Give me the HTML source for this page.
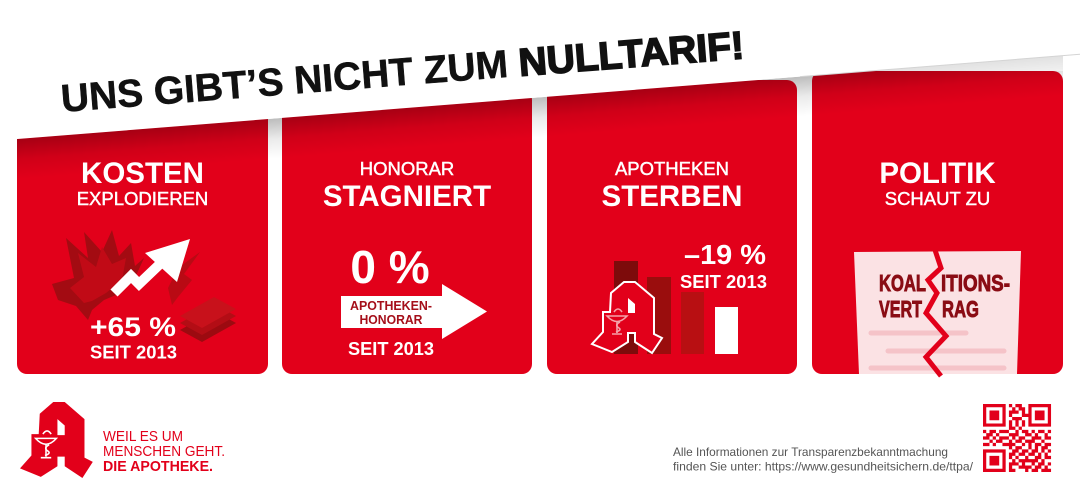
<!DOCTYPE html>
<html><head><meta charset="utf-8"><style>
html,body{margin:0;padding:0;background:#fff;}
svg{display:block;}
text{font-family:"Liberation Sans",Arial,sans-serif;}
</style></head><body>
<svg width="1080" height="500" viewBox="0 0 1080 500" xmlns="http://www.w3.org/2000/svg">
<defs>
<linearGradient id="sh" gradientUnits="userSpaceOnUse" x1="540" y1="97.35" x2="543.2" y2="137.2">
<stop offset="0" stop-color="#000" stop-opacity="0.26"/>
<stop offset="0.5" stop-color="#000" stop-opacity="0.08"/>
<stop offset="1" stop-color="#000" stop-opacity="0"/>
</linearGradient>
<clipPath id="cc"><rect x="17" y="0" width="1046" height="400"/></clipPath>
</defs>
<rect width="1080" height="500" fill="#fff"/>

<!-- cards -->
<rect x="17" y="100" width="251" height="274" rx="10" fill="#e2001a"/>
<rect x="282" y="90" width="250" height="284" rx="10" fill="#e2001a"/>
<rect x="547" y="80" width="250" height="294" rx="10" fill="#e2001a"/>
<rect x="812" y="71" width="251" height="303" rx="10" fill="#e2001a"/>

<!-- banner shadow + white banner -->
<polygon points="17,139 1063,55.6 1063,95.6 17,179" fill="url(#sh)" clip-path="url(#cc)"/>
<rect x="860" y="40" width="210" height="31" fill="#fff" opacity="0.55"/>
<polygon points="0,0 1080,0 1080,54.3 0,140.4" fill="#fff"/>
<line x1="800" y1="76.6" x2="1080" y2="54.3" stroke="#d4d4d4" stroke-width="1"/>

<!-- title -->
<text x="62" y="112" transform="rotate(-4.5 62 112)" font-size="39" font-weight="bold" fill="#111" stroke="#111" stroke-width="0.5" textLength="685" lengthAdjust="spacingAndGlyphs">UNS GIBT’S NICHT ZUM <tspan stroke-width="1.6">NULLTARIF!</tspan></text>

<!-- headings -->
<g fill="#fff" text-anchor="middle">
<text x="142.5" y="183" font-size="29.5" font-weight="bold">KOSTEN</text>
<text x="142.5" y="205" font-size="18.5" stroke="#fff" stroke-width="0.45">EXPLODIEREN</text>
<text x="407" y="175" font-size="18.5" stroke="#fff" stroke-width="0.45">HONORAR</text>
<text x="407" y="206" font-size="29.5" font-weight="bold">STAGNIERT</text>
<text x="672" y="175" font-size="18.5" stroke="#fff" stroke-width="0.45">APOTHEKEN</text>
<text x="672" y="206" font-size="29.5" font-weight="bold">STERBEN</text>
<text x="937.5" y="183" font-size="29.5" font-weight="bold">POLITIK</text>
<text x="937.5" y="205" font-size="18.5" stroke="#fff" stroke-width="0.45">SCHAUT ZU</text>
</g>

<!-- card 1 graphic -->
<polygon points="52,284 74,278 66,238 88,258 84,232 102,252 112,230 119,256 131,243 135,266 144,258 134,280 116,295 104,300 92,310 88,320 76,306 58,300" fill="#a30b12"/>
<polygon points="70,288 84,277 78,253 96,267 102,247 112,264 126,258 122,280 106,293 92,301 84,303" fill="#c10a16"/>
<polygon points="200,252 184,274 192,280 178,297 172,305 168,288 178,268" fill="#b90a14"/>
<polygon points="180,330 214,311 236,323 202,342" fill="#9c0a10"/>
<polygon points="180,323 214,304 236,316 202,335" fill="#b30d15"/>
<polygon points="180,316 214,297 236,309 202,328" fill="#c8111b"/>
<polyline points="114,293 131,276 139,284 161,263" fill="none" stroke="#fff" stroke-width="10" stroke-linejoin="miter"/>
<polygon points="145,253 190,239 177,282" fill="#fff"/>
<g fill="#fff" font-weight="bold">
<text x="90" y="336" font-size="27" textLength="86" lengthAdjust="spacingAndGlyphs">+65 %</text>
<text x="90" y="358.5" font-size="18.5" textLength="87" lengthAdjust="spacingAndGlyphs">SEIT 2013</text>
</g>

<!-- card 2 graphic -->
<text x="390" y="283" text-anchor="middle" font-size="46" font-weight="bold" fill="#fff">0 %</text>
<polygon points="341,296 442,296 442,284 487,311.5 442,339 442,328 341,328" fill="#fff"/>
<g fill="#a50f1a" font-weight="bold" text-anchor="middle">
<text x="391" y="310" font-size="12.5" textLength="82" lengthAdjust="spacingAndGlyphs">APOTHEKEN-</text>
<text x="391" y="324" font-size="12.5" textLength="63" lengthAdjust="spacingAndGlyphs">HONORAR</text>
</g>
<text x="348" y="355" font-size="18.5" font-weight="bold" fill="#fff" textLength="86" lengthAdjust="spacingAndGlyphs">SEIT 2013</text>

<!-- card 3 graphic -->
<rect x="614" y="261" width="24" height="93" fill="#7d0b0b"/>
<rect x="647" y="277" width="24" height="77" fill="#9a0d0d"/>
<rect x="681" y="292" width="23" height="62" fill="#b80f12"/>
<rect x="715" y="307" width="23" height="47" fill="#fff"/>
<path d="M624 282 L635 282 L654 298 L654 334 L662 338 L652 353 L635 342 L635 333 L628 333 L628 342 L612 352 L592 344 L603 332 L603 312 L610 312 L611 293 Z" fill="#e2001a" stroke="#fff" stroke-width="2" stroke-linejoin="miter"/>
<polygon points="628,298 635,304 635,313 628,313" fill="#fff"/>
<g stroke="#f4a3aa" fill="none" stroke-width="1.6">
<path d="M607 316 Q617 327 627 316 Z"/>
<path d="M617 321 L617 333 M612 334 L622 334"/>
<path d="M614 312 Q618 306 622 312 M620 322 Q614 325 619 328 Q622 330 616 332"/>
</g>
<g fill="#fff" font-weight="bold">
<text x="684" y="264" font-size="28" textLength="82" lengthAdjust="spacingAndGlyphs">–19 %</text>
<text x="680" y="288" font-size="18.5" textLength="87" lengthAdjust="spacingAndGlyphs">SEIT 2013</text>
</g>

<!-- card 4 graphic -->
<polygon points="854,252 1021,251 1017,374 859,374" fill="#fbe2e4"/>
<g stroke="#f5c3c8" stroke-width="5" stroke-linecap="round">
<line x1="871" y1="333" x2="966" y2="333"/>
<line x1="888" y1="351" x2="1004" y2="351"/>
<line x1="871" y1="368" x2="1004" y2="368"/>
</g>
<g fill="#8a0c14" stroke="#8a0c14" stroke-width="0.9" font-weight="bold" font-size="23">
<text x="879" y="291" textLength="47" lengthAdjust="spacingAndGlyphs">KOAL</text>
<text x="941" y="291" textLength="69" lengthAdjust="spacingAndGlyphs">ITIONS-</text>
<text x="879" y="317" textLength="43" lengthAdjust="spacingAndGlyphs">VERT</text>
<text x="942" y="317" textLength="37" lengthAdjust="spacingAndGlyphs">RAG</text>
</g>
<polyline points="935,250 941,268 928,280 937,293 926,313 946,336 926,357 941,376" fill="none" stroke="#e2001a" stroke-width="5" stroke-linejoin="miter"/>

<!-- footer logo -->
<g transform="translate(20,402) scale(1.04,1.07)">
<path d="M32 0 L43 0 L62 16 L62 52 L70 56 L60 71 L43 60 L43 51 L36 51 L36 60 L20 70 L0 62 L11 50 L11 30 L18 30 L19 11 Z" fill="#e2001a"/>
<polygon points="36,16 43,22 43,31 36,31" fill="#fff"/>
<g stroke="#fff" fill="none" stroke-width="1.5">
<path d="M15 34 Q25 45 35 34 Z"/>
<path d="M25 39 L25 51 M20 52 L30 52"/>
<path d="M22 30 Q26 24 30 30 M28 40 Q22 43 27 46 Q30 48 24 50"/>
</g>
</g>
<g fill="#e2001a" font-size="15">
<text x="103" y="441" textLength="80" lengthAdjust="spacingAndGlyphs">WEIL ES UM</text>
<text x="103" y="456" textLength="122" lengthAdjust="spacingAndGlyphs">MENSCHEN GEHT.</text>
<text x="103" y="471" font-weight="bold" textLength="110" lengthAdjust="spacingAndGlyphs">DIE APOTHEKE.</text>
</g>

<!-- footer right text -->
<g fill="#555" font-size="12">
<text x="673" y="456" textLength="275" lengthAdjust="spacingAndGlyphs">Alle Informationen zur Transparenzbekanntmachung</text>
<text x="673" y="470.5" textLength="300" lengthAdjust="spacingAndGlyphs">finden Sie unter: https://www.gesundheitsichern.de/ttpa/</text>
</g>

<!-- QR -->
<g transform="translate(983,404) scale(3.24)" fill="#e2001a">
<path d="M0 0h7v1h-7zM8 0h1v1h-1zM10 0h2v1h-2zM14 0h7v1h-7z
M0 1h1v1h-1zM6 1h1v1h-1zM9 1h1v1h-1zM11 1h2v1h-2zM14 1h1v1h-1zM20 1h1v1h-1z
M0 2h1v1h-1zM2 2h3v1h-3zM6 2h1v1h-1zM8 2h3v1h-3zM12 2h1v1h-1zM14 2h1v1h-1zM16 2h3v1h-3zM20 2h1v1h-1z
M0 3h1v1h-1zM2 3h3v1h-3zM6 3h1v1h-1zM8 3h1v1h-1zM12 3h3v1h-3zM16 3h3v1h-3zM20 3h1v1h-1z
M0 4h1v1h-1zM2 4h3v1h-3zM6 4h1v1h-1zM9 4h3v1h-3zM14 4h1v1h-1zM16 4h3v1h-3zM20 4h1v1h-1z
M0 5h1v1h-1zM6 5h1v1h-1zM8 5h1v1h-1zM10 5h1v1h-1zM12 5h1v1h-1zM14 5h1v1h-1zM20 5h1v1h-1z
M0 6h7v1h-7zM8 6h1v1h-1zM10 6h1v1h-1zM12 6h1v1h-1zM14 6h7v1h-7z
M8 7h2v1h-2zM11 7h1v1h-1z
M0 8h1v1h-1zM2 8h2v1h-2zM5 8h3v1h-3zM10 8h1v1h-1zM12 8h2v1h-2zM15 8h1v1h-1zM17 8h2v1h-2zM20 8h1v1h-1z
M1 9h2v1h-2zM4 9h1v1h-1zM8 9h3v1h-3zM13 9h2v1h-2zM16 9h1v1h-1zM19 9h1v1h-1z
M0 10h2v1h-2zM3 10h1v1h-1zM5 10h3v1h-3zM9 10h1v1h-1zM11 10h2v1h-2zM15 10h3v1h-3zM19 10h2v1h-2z
M2 11h1v1h-1zM4 11h2v1h-2zM8 11h1v1h-1zM10 11h2v1h-2zM13 11h3v1h-3zM18 11h1v1h-1z
M0 12h2v1h-2zM3 12h1v1h-1zM6 12h4v1h-4zM12 12h1v1h-1zM14 12h1v1h-1zM16 12h2v1h-2zM19 12h2v1h-2z
M8 13h1v1h-1zM10 13h2v1h-2zM14 13h1v1h-1zM16 13h1v1h-1zM18 13h2v1h-2z
M0 14h7v1h-7zM9 14h2v1h-2zM12 14h2v1h-2zM15 14h2v1h-2zM18 14h1v1h-1zM20 14h1v1h-1z
M0 15h1v1h-1zM6 15h1v1h-1zM8 15h2v1h-2zM11 15h2v1h-2zM14 15h2v1h-2zM17 15h1v1h-1zM19 15h1v1h-1z
M0 16h1v1h-1zM2 16h3v1h-3zM6 16h1v1h-1zM8 16h1v1h-1zM10 16h1v1h-1zM13 16h1v1h-1zM16 16h2v1h-2zM19 16h2v1h-2z
M0 17h1v1h-1zM2 17h3v1h-3zM6 17h1v1h-1zM9 17h1v1h-1zM11 17h6v1h-6zM18 17h1v1h-1z
M0 18h1v1h-1zM2 18h3v1h-3zM6 18h1v1h-1zM8 18h3v1h-3zM12 18h1v1h-1zM15 18h1v1h-1zM17 18h2v1h-2zM20 18h1v1h-1z
M0 19h1v1h-1zM6 19h1v1h-1zM8 19h1v1h-1zM11 19h4v1h-4zM16 19h2v1h-2zM19 19h1v1h-1z
M0 20h7v1h-7zM8 20h2v1h-2zM13 20h1v1h-1zM15 20h2v1h-2zM18 20h3v1h-3z"/>
</g>
</svg>
</body></html>
